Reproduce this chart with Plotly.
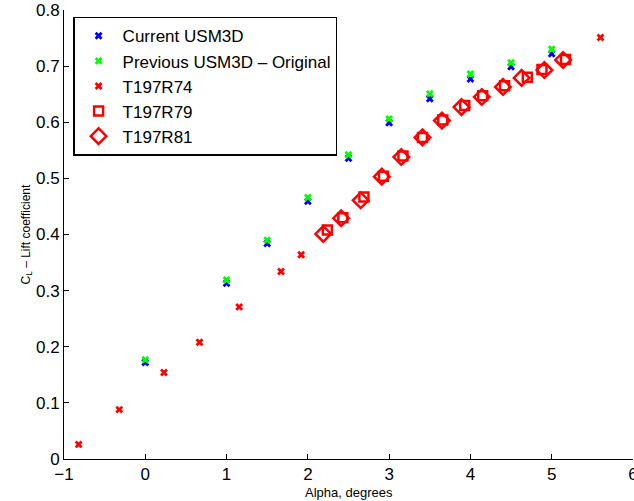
import plotly.graph_objects as go

# Current USM3D
cur_alpha = [0.0, 1.0, 1.5, 2.0, 2.5, 3.0, 3.5, 4.0, 4.5, 5.0]
cur_cl = [0.172, 0.313, 0.384, 0.459, 0.536, 0.599, 0.642, 0.677, 0.699, 0.722]
# Previous USM3D - Original
prev_alpha = [0.0, 1.0, 1.5, 2.0, 2.5, 3.0, 3.5, 4.0, 4.5, 5.0]
prev_cl = [0.177, 0.319, 0.390, 0.466, 0.542, 0.606, 0.651, 0.686, 0.706, 0.730]
# T197R74
r74_alpha = [-0.82, -0.32, 0.23, 0.667, 1.155, 1.67, 1.918, 5.60]
r74_cl = [0.026, 0.088, 0.154, 0.208, 0.271, 0.334, 0.364, 0.751]
# T197R79
r79_alpha = [2.24, 2.43, 2.69, 2.93, 3.17, 3.41, 3.66, 3.93, 4.15, 4.42, 4.70, 4.88, 5.17]
r79_cl = [0.408, 0.430, 0.467, 0.504, 0.540, 0.573, 0.604, 0.630, 0.647, 0.665, 0.680, 0.694, 0.712]
# T197R81
r81_alpha = [2.19, 2.41, 2.65, 2.91, 3.15, 3.41, 3.65, 3.89, 4.14, 4.40, 4.63, 4.91, 5.14]
r81_cl = [0.401, 0.429, 0.461, 0.503, 0.538, 0.573, 0.603, 0.627, 0.645, 0.663, 0.679, 0.693, 0.711]

x_ticks = [-1, 0, 1, 2, 3, 4, 5, 6]
x_labels = ["\u22121", "0", "1", "2", "3", "4", "5", "6"]
y_ticks = [0, 0.1, 0.2, 0.3, 0.4, 0.5, 0.6, 0.7, 0.8]
y_labels = ["0", "0.1", "0.2", "0.3", "0.4", "0.5", "0.6", "0.7", "0.8"]

FONT = "Liberation Sans, Arial, Helvetica, sans-serif"

fig = go.Figure()
fig.add_trace(go.Scatter(x=cur_alpha, y=cur_cl, mode="markers", name="Current USM3D",
                         marker=dict(symbol="x", size=7, color="#0000ff", line=dict(width=0))))
fig.add_trace(go.Scatter(x=prev_alpha, y=prev_cl, mode="markers", name="Previous USM3D \u2013 Original",
                         marker=dict(symbol="x", size=7, color="#00ff00", line=dict(width=0))))
fig.add_trace(go.Scatter(x=r74_alpha, y=r74_cl, mode="markers", name="T197R74",
                         marker=dict(symbol="x", size=7, color="#ff0000", line=dict(width=0))))
fig.add_trace(go.Scatter(x=r79_alpha, y=r79_cl, mode="markers", name="T197R79",
                         marker=dict(symbol="square-open", size=9, color="#ff0000", line=dict(width=2.5))))
fig.add_trace(go.Scatter(x=r81_alpha, y=r81_cl, mode="markers", name="T197R81",
                         marker=dict(symbol="diamond-open", size=12, color="#ff0000", line=dict(width=2.5))))

axis_common = dict(showgrid=False, zeroline=False, showline=True, linecolor="black", linewidth=1,
                   mirror=False, ticks="inside", ticklen=5, tickcolor="black",
                   ticklabeloverflow="allow", automargin=False,
                   tickfont=dict(family=FONT, size=17, color="black"))

fig.update_layout(
    width=634, height=501,
    margin=dict(l=64, r=1, t=10, b=42, autoexpand=False),
    paper_bgcolor="white", plot_bgcolor="white",
    font=dict(family=FONT, size=15, color="black"),
    showlegend=True,
    legend=dict(x=0.016, y=0.985, xanchor="left", yanchor="top",
                bgcolor="white", bordercolor="black", borderwidth=1.5,
                font=dict(family=FONT, size=17, color="black"),
                traceorder="normal", itemwidth=38),
    xaxis=dict(range=[-1, 6], tickvals=x_ticks, ticktext=x_labels, **axis_common),
    yaxis=dict(range=[0, 0.8], tickvals=y_ticks, ticktext=y_labels, **axis_common),
    annotations=[
        dict(text="Alpha, degrees", xref="paper", yref="paper", x=0.5, y=0, xanchor="center",
             yanchor="middle", yshift=-33, showarrow=False,
             font=dict(family=FONT, size=13, color="black")),
        dict(text="C<sub>L</sub> \u2013 Lift coefficient", xref="paper", yref="paper", x=0, y=0.5,
             xanchor="center", yanchor="middle", xshift=-38, textangle=-90, showarrow=False,
             font=dict(family=FONT, size=12, color="black")),
    ],
)

fig.write_html("out.html", config={"displayModeBar": False},
               post_script="document.body.style.margin='0';")
